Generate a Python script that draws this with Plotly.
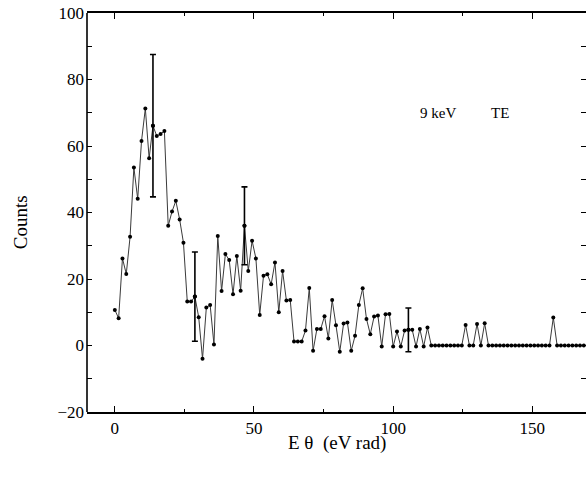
import plotly.graph_objects as go

# Angular-energy distribution, 9 keV, TE polarisation
step = 1.37
counts = [
    10.7, 8.2, 26.2, 21.5, 32.7, 53.5, 44.1, 61.5, 71.3, 56.3,
    66.1, 63.0, 63.6, 64.5, 36.0, 40.3, 43.5, 37.9, 30.9, 13.2,
    13.2, 14.7, 8.5, -4.0, 11.4, 12.2, 0.3, 32.9, 16.4, 27.5,
    25.7, 15.4, 26.9, 16.5, 36.0, 22.4, 31.5, 26.2, 9.2, 21.0,
    21.4, 18.4, 25.0, 10.0, 22.4, 13.5, 13.7, 1.2, 1.2, 1.2,
    4.5, 17.3, -1.6, 5.0, 5.0, 8.8, 2.1, 13.7, 6.1, -1.9,
    6.6, 6.9, -1.6, 2.9, 12.2, 17.2, 8.0, 3.4, 8.7, 9.0,
    -0.3, 9.4, 9.5, -0.3, 4.2, -0.3, 4.5, 4.7, 4.7, -0.3,
    5.0, -0.3, 5.4, 0, 0, 0, 0, 0, 0, 0,
    0, 0, 6.2, 0, 0, 6.5, 0, 6.7, 0, 0,
    0, 0, 0, 0, 0, 0, 0, 0, 0, 0,
    0, 0, 0, 0, 0, 8.4, 0, 0, 0, 0,
    0, 0, 0, 0,
]
e_theta = [round(i * step, 3) for i in range(len(counts))]

# statistical error bars shown on a few representative points
err_index = [10, 21, 34, 77]
err_size = [21.4, 13.4, 11.7, 6.6]

x_ticks = [0, 50, 100, 150]
y_ticks = [-20, 0, 20, 40, 60, 80, 100]

FONT = "Liberation Serif, Times New Roman, serif"
BLACK = "black"

fig = go.Figure()
fig.add_trace(go.Scatter(
    x=e_theta, y=counts, mode="lines+markers",
    line=dict(color="#3a3a3a", width=1),
    marker=dict(color=BLACK, size=4),
    showlegend=False,
))
fig.add_trace(go.Scatter(
    x=[e_theta[i] for i in err_index],
    y=[counts[i] for i in err_index],
    mode="markers",
    marker=dict(color=BLACK, size=4),
    error_y=dict(type="data", array=err_size, visible=True,
                 color=BLACK, thickness=1.6, width=3),
    showlegend=False,
))

# in-plot label
fig.add_annotation(x=109, y=70, xref="x", yref="y", text="9 keV",
                   showarrow=False, xanchor="left",
                   font=dict(family=FONT, size=15, color=BLACK))
fig.add_annotation(x=134.4, y=70, xref="x", yref="y", text="TE",
                   showarrow=False, xanchor="left",
                   font=dict(family=FONT, size=15, color=BLACK))

# axis titles
fig.add_annotation(x=0.5, y=-0.078, xref="paper", yref="paper",
                   text="E θ  (eV rad)", showarrow=False,
                   xanchor="center", yanchor="middle",
                   font=dict(family=FONT, size=19, color=BLACK))
fig.add_annotation(x=-0.134, y=0.476, xref="paper", yref="paper",
                   text="Counts", showarrow=False, textangle=-90,
                   xanchor="center", yanchor="middle",
                   font=dict(family=FONT, size=19, color=BLACK))

# left frame edge (the right edge of the frame lies outside the page)
fig.add_shape(type="line", xref="paper", yref="paper",
              x0=0, x1=0, y0=0, y1=1,
              line=dict(color=BLACK, width=1.6))

tick_common = dict(
    ticks="inside", tickcolor=BLACK, tickwidth=1.3,
    showgrid=False, zeroline=False, mirror="ticks",
    tickfont=dict(family=FONT, size=17, color=BLACK),
)

fig.update_xaxes(
    range=[-10, 169.3], tickvals=x_ticks, ticklen=6,
    showline=True, linecolor=BLACK, linewidth=1.6,
    minor=dict(dtick=25, tick0=0, ticks="inside", ticklen=3,
               tickcolor=BLACK, tickwidth=1.3),
    **tick_common,
)
fig.update_yaxes(
    range=[-20, 100], tickvals=y_ticks, ticklen=5,
    showline=False, ticklabelstandoff=2,
    minor=dict(dtick=10, tick0=0, ticks="inside", ticklen=5,
               tickcolor=BLACK, tickwidth=1.3),
    **tick_common,
)

fig.update_layout(
    width=586, height=479,
    margin=dict(l=87, r=0, t=13, b=67),
    paper_bgcolor="white", plot_bgcolor="white",
)

fig.write_html("out.html")
